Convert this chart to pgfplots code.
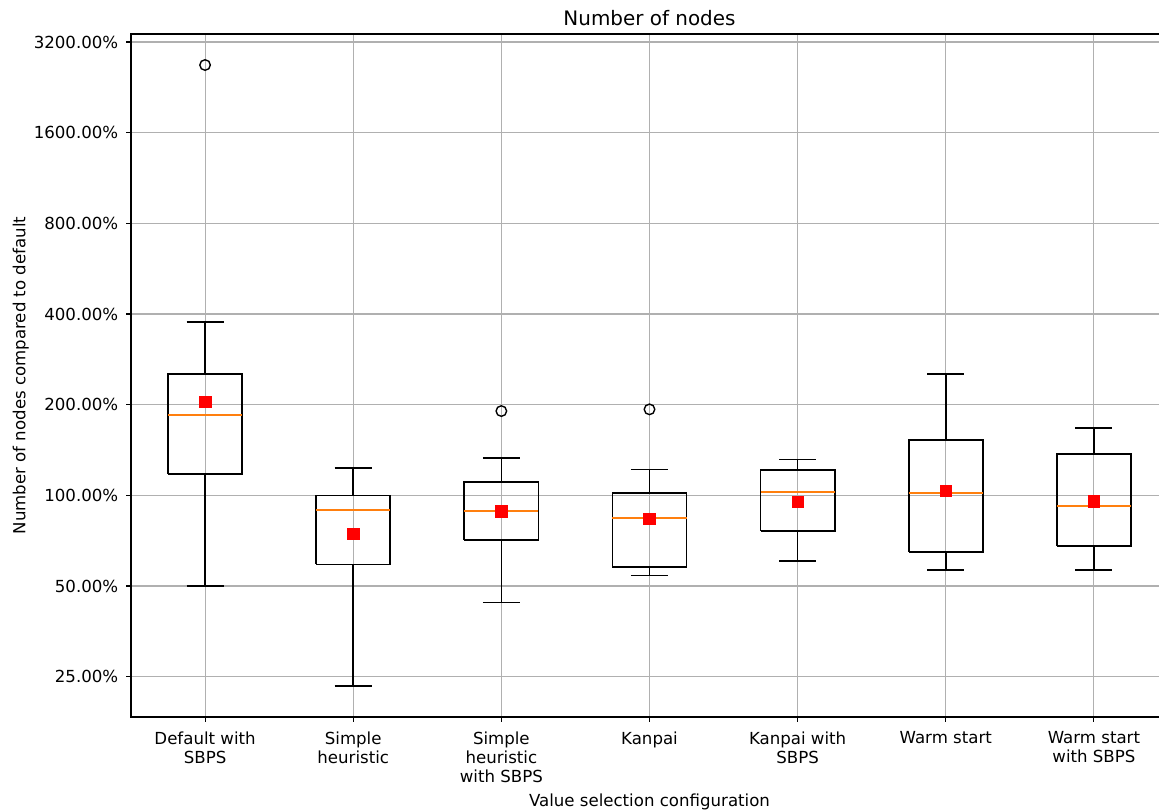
\documentclass[border=0pt]{standalone}
\usepackage{pgfplots}
\pgfplotsset{compat=1.18}
\usepackage{fontspec}
\setmainfont{DejaVu Sans}
\definecolor{gridgray}{HTML}{B0B0B0}
\definecolor{medorange}{HTML}{FF7F0E}

% one box: position, lower whisker, lower quartile, median, upper quartile, upper whisker
\newcommand{\statbox}[6]{%
  \pgfmathsetmacro\bxl{#1-0.25}\pgfmathsetmacro\bxr{#1+0.25}%
  \pgfmathsetmacro\cpl{#1-0.125}\pgfmathsetmacro\cpr{#1+0.125}%
  \addplot[black, line width=1.2bp, line join=miter] coordinates {(\bxl,#3) (\bxr,#3) (\bxr,#5) (\bxl,#5) (\bxl,#3)};
  \addplot[black, line width=1.2bp] coordinates {(#1,#2) (#1,#3)};
  \addplot[black, line width=1.2bp] coordinates {(#1,#5) (#1,#6)};
  \addplot[black, line width=1.2bp] coordinates {(\cpl,#2) (\cpr,#2)};
  \addplot[black, line width=1.2bp] coordinates {(\cpl,#6) (\cpr,#6)};
  \addplot[medorange, line width=1.4bp] coordinates {(\bxl,#4) (\bxr,#4)};
}

\begin{document}
\begin{tikzpicture}
\useasboundingbox (-94.32bp,-66.96bp) rectangle (740.16bp,516.24bp);
\begin{axis}[
  scale only axis,
  width=746.64bp, height=491.76bp,
  xmin=0.5, xmax=7.5,
  ymode=log, log basis y=2,
  ymin=18.38, ymax=3401,
  xtick={1,2,3,4,5,6,7},
  xticklabels={Default with\\SBPS, Simple\\heuristic, Simple\\heuristic\\with SBPS, Kanpai, Kanpai with\\SBPS, Warm start, Warm start\\with SBPS},
  ytick={25,50,100,200,400,800,1600,3200},
  yticklabels={25.00\%,50.00\%,100.00\%,200.00\%,400.00\%,800.00\%,1600.00\%,3200.00\%},
  xticklabel style={align=center, font=\fontsize{12}{13.7}\selectfont, inner sep=0pt, yshift=-7bp},
  yticklabel style={font=\fontsize{12}{14}\selectfont, inner sep=0pt, xshift=-5.5bp},
  grid=major,
  major grid style={draw=gridgray, line width=0.8bp},
  tick align=outside, tick pos=left,
  major tick length=3.5bp,
  tick style={black, line width=0.8bp},
  axis line style={black, line width=0.8bp},
  title={Number of nodes},
  title style={font=\fontsize{14.4}{17}\selectfont, inner sep=0pt, yshift=-0.5bp},
  xlabel={Value selection configuration},
  ylabel={Number of nodes compared to default},
  xlabel style={font=\fontsize{12}{14}\selectfont, yshift=-4.3bp},
  ylabel style={font=\fontsize{12}{14}\selectfont},
  clip=false,
]
\statbox{1}{50.0}{117.7}{184.3}{252.8}{377.0}  % Default with SBPS
\statbox{2}{23.3}{59.0}{89.6}{100.0}{123.5}    % Simple heuristic
\statbox{3}{44.1}{71.1}{88.9}{111.0}{133.3}    % Simple heuristic with SBPS
\statbox{4}{54.2}{57.8}{84.3}{102.0}{122.0}    % Kanpai
\statbox{5}{60.6}{76.3}{102.8}{121.3}{131.7}   % Kanpai with SBPS
\statbox{6}{56.5}{64.9}{102.0}{152.6}{253.4}   % Warm start
\statbox{7}{56.4}{67.9}{92.3}{137.4}{167.7}    % Warm start with SBPS
% outliers
\addplot[only marks, mark=o, mark size=3.8bp, black, mark options={line width=1bp}]
  coordinates {(1,2683) (3,190.5) (4,193.0)};
% means
\addplot[only marks, mark=square*, mark size=4.2bp, color=red, fill=red]
  coordinates {(1,204.5) (2,74.6) (3,88.7) (4,83.6) (5,95.2) (6,103.6) (7,95.7)};
\end{axis}
\end{tikzpicture}
\end{document}
